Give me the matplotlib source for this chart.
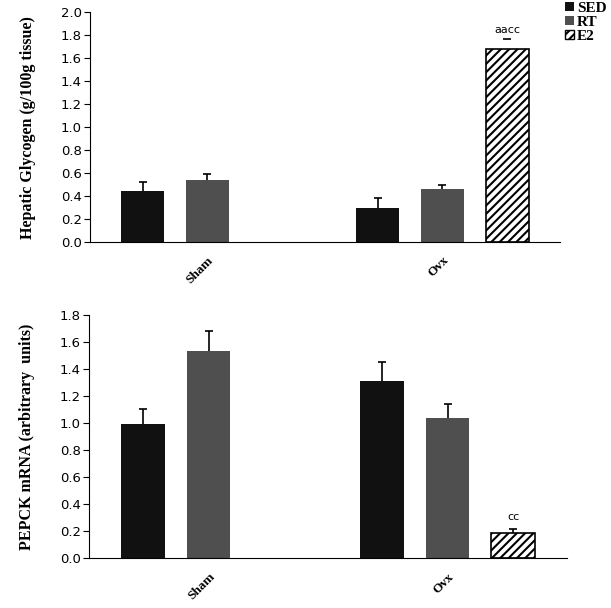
import numpy as np
import matplotlib.pyplot as plt
from matplotlib.patches import Patch

plt.rcParams['hatch.linewidth'] = 1.5

# data
groups = ['Sham', 'Ovx']
treatments = ['SED', 'RT', 'E2']

glyc_sed = [0.44, 0.30]
glyc_sed_err = [0.08, 0.08]
glyc_rt = [0.54, 0.46]
glyc_rt_err = [0.05, 0.04]
glyc_e2 = [np.nan, 1.68]
glyc_e2_err = [np.nan, 0.09]

pepck_sed = [0.99, 1.31]
pepck_sed_err = [0.11, 0.14]
pepck_rt = [1.53, 1.04]
pepck_rt_err = [0.15, 0.10]
pepck_e2 = [np.nan, 0.19]
pepck_e2_err = [np.nan, 0.03]

sed_color = '#111111'
rt_color = '#4f4f4f'

x = np.arange(len(groups))
w = 0.183
off = 0.275

fig = plt.figure(figsize=(6.11, 6.08), dpi=100)
ax1 = fig.add_axes([0.1473, 0.602, 0.7692, 0.378])
ax2 = fig.add_axes([0.1457, 0.0817, 0.7823, 0.4007])


def draw(ax, sed, sed_err, rt, rt_err, e2, e2_err, ymax, label, e2_line=1.2):
    eb = dict(fmt='none', ecolor='black', capsize=3, capthick=1.2, zorder=0.5)
    ax.bar(x - off, sed, w, color=sed_color, zorder=1)
    ax.errorbar(x - off, sed, yerr=sed_err, elinewidth=1.2, **eb)
    ax.bar(x, rt, w, color=rt_color, zorder=1)
    ax.errorbar(x, rt, yerr=rt_err, elinewidth=1.2, **eb)
    ax.bar(x + off, e2, w, color='white', edgecolor='black', hatch='////', linewidth=1.2, zorder=1)
    ax.errorbar(x + off, e2, yerr=e2_err, elinewidth=e2_line, **eb)
    ax.set_xlim(-0.5, 1.5)
    ax.set_ylim(0, ymax)
    ticks = np.arange(0, ymax + 0.01, 0.2)
    ax.set_yticks(ticks)
    ax.set_yticklabels(['%.1f' % v for v in ticks], fontsize=9.5)
    ax.set_xticks(x)
    ax.set_xticklabels(groups, rotation=45, ha='right', va='top', rotation_mode='anchor',
                       fontsize=9.5, fontweight='bold', family='Liberation Serif')
    ax.tick_params(axis='x', length=0, pad=9)
    ax.tick_params(axis='y', length=4, width=0.8, pad=2)
    for s in ['top', 'right']:
        ax.spines[s].set_visible(False)
    ax.spines['left'].set_linewidth(0.8)
    ax.spines['bottom'].set_linewidth(0.8)
    ax.set_ylabel(label, family='Liberation Serif', fontweight='bold', fontsize=11.5, labelpad=18)


# E2 error bar on glycogen shows only its cap
draw(ax1, glyc_sed, glyc_sed_err, glyc_rt, glyc_rt_err, glyc_e2, glyc_e2_err, 2.0,
     'Hepatic Glycogen (g/100g tissue)', e2_line=0)
ax1.text(x[1] + off, 1.80, 'aacc', ha='center', va='bottom', fontsize=8)

draw(ax2, pepck_sed, pepck_sed_err, pepck_rt, pepck_rt_err, pepck_e2, pepck_e2_err, 1.8,
     'PEPCK mRNA (arbitrary  units)')
ax2.text(x[1] + off, 0.27, 'cc', ha='center', va='bottom', fontsize=8)

handles = [Patch(facecolor=sed_color), Patch(facecolor=rt_color),
           Patch(facecolor='white', edgecolor='black', hatch='////')]
fig.legend(handles, treatments, loc='upper right', bbox_to_anchor=(1.0, 1.005), frameon=False,
           prop={'family': 'Liberation Serif', 'weight': 'bold', 'size': 11},
           handlelength=0.6, handleheight=0.6, handletextpad=0.2, labelspacing=0.05,
           borderpad=0.2, borderaxespad=0.1)

fig.savefig('out.png', dpi=100)
